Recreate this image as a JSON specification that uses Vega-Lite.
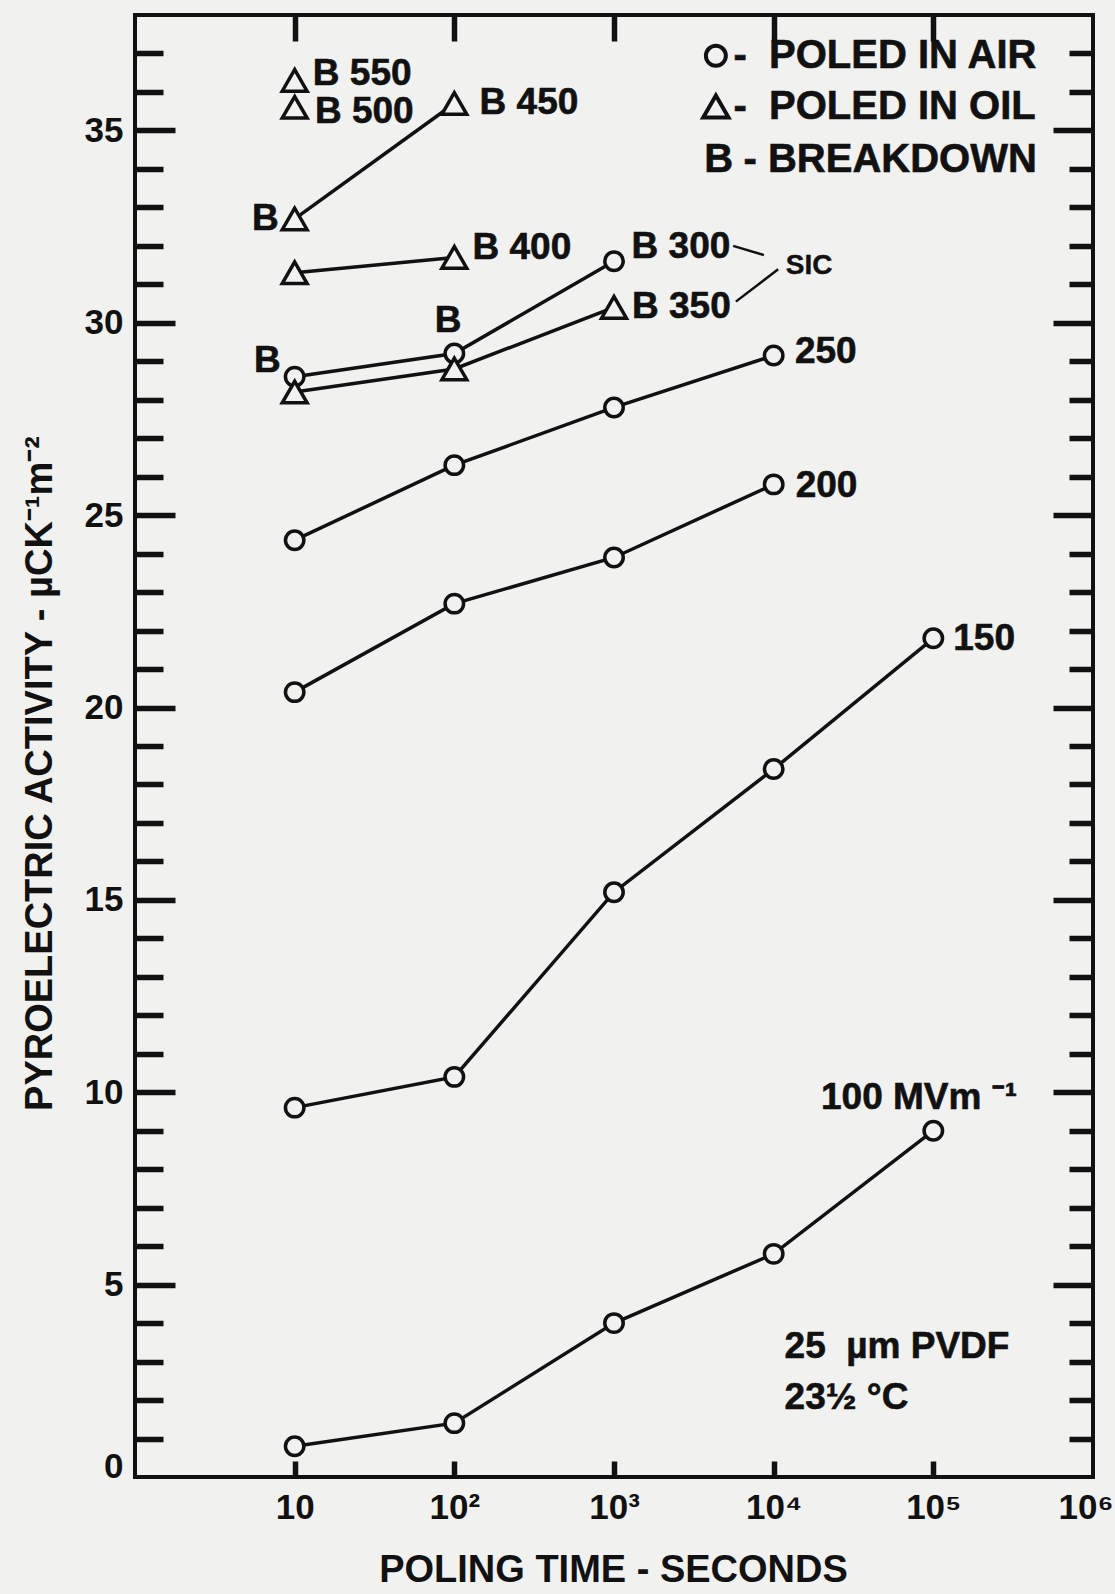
{
  "$schema": "https://vega.github.io/schema/vega-lite/v6.json",
  "width": 958,
  "height": 1462,
  "autosize": "none",
  "padding": {"left": 135, "top": 15, "right": 22, "bottom": 117},
  "background": "#f1f1ef",
  "config": {
    "view": {"stroke": "#111111", "strokeWidth": 4},
    "font": "Liberation Sans",
    "axis": {
      "grid": false,
      "domain": false,
      "labelFont": "Liberation Sans",
      "labelFontWeight": "bold",
      "labelFontSize": 35,
      "labelColor": "#111111",
      "tickColor": "#111111",
      "tickWidth": 5.5,
      "titleFont": "Liberation Sans",
      "titleFontWeight": "bold",
      "titleFontSize": 38,
      "titleColor": "#111111",
      "labelFlush": false,
      "labelOverlap": false
    }
  },
  "datasets": {
    "series": [
      {"s": "100", "medium": "air", "t": 10, "a": 0.8},
      {"s": "100", "medium": "air", "t": 100, "a": 1.4},
      {"s": "100", "medium": "air", "t": 1000, "a": 4.0},
      {"s": "100", "medium": "air", "t": 10000, "a": 5.8},
      {"s": "100", "medium": "air", "t": 100000, "a": 9.0},
      {"s": "150", "medium": "air", "t": 10, "a": 9.6},
      {"s": "150", "medium": "air", "t": 100, "a": 10.4},
      {"s": "150", "medium": "air", "t": 1000, "a": 15.2},
      {"s": "150", "medium": "air", "t": 10000, "a": 18.4},
      {"s": "150", "medium": "air", "t": 100000, "a": 21.8},
      {"s": "200", "medium": "air", "t": 10, "a": 20.4},
      {"s": "200", "medium": "air", "t": 100, "a": 22.7},
      {"s": "200", "medium": "air", "t": 1000, "a": 23.9},
      {"s": "200", "medium": "air", "t": 10000, "a": 25.8},
      {"s": "250", "medium": "air", "t": 10, "a": 24.35},
      {"s": "250", "medium": "air", "t": 100, "a": 26.3},
      {"s": "250", "medium": "air", "t": 1000, "a": 27.8},
      {"s": "250", "medium": "air", "t": 10000, "a": 29.15},
      {"s": "300", "medium": "air", "t": 10, "a": 28.6},
      {"s": "300", "medium": "air", "t": 100, "a": 29.2},
      {"s": "300", "medium": "air", "t": 1000, "a": 31.6},
      {"s": "350", "medium": "oil", "t": 10, "a": 28.2},
      {"s": "350", "medium": "oil", "t": 100, "a": 28.8},
      {"s": "350", "medium": "oil", "t": 1000, "a": 30.4},
      {"s": "400", "medium": "oil", "t": 10, "a": 31.3},
      {"s": "400", "medium": "oil", "t": 100, "a": 31.7},
      {"s": "450", "medium": "oil", "t": 10, "a": 32.7},
      {"s": "450", "medium": "oil", "t": 100, "a": 35.7},
      {"s": "500", "medium": "oil", "t": 10, "a": 35.6},
      {"s": "550", "medium": "oil", "t": 10, "a": 36.3}
    ],
    "notes": [
      {"t": 13.0, "a": 36.46, "label": "B 550"},
      {"t": 13.4, "a": 35.48, "label": "B 500"},
      {"t": 144, "a": 35.72, "label": "B 450"},
      {"t": 5.4, "a": 32.71, "label": "B"},
      {"t": 130, "a": 31.94, "label": "B 400"},
      {"t": 75.5, "a": 30.04, "label": "B"},
      {"t": 5.56, "a": 29.01, "label": "B"},
      {"t": 1289, "a": 31.98, "label": "B 300"},
      {"t": 1297, "a": 30.41, "label": "B 350"},
      {"t": 13580, "a": 29.23, "label": "250"},
      {"t": 13740, "a": 25.76, "label": "200"},
      {"t": 133300, "a": 21.77, "label": "150"},
      {"t": 19800, "a": 9.86, "label": "100 MVm ⁻¹"},
      {"t": 11700, "a": 3.38, "label": "25\u00a0 µm PVDF"},
      {"t": 11700, "a": 2.06, "label": "23½ °C"}
    ],
    "legendText": [
      {"t": 3675, "a": 34.24, "label": "B"},
      {"t": 5600, "a": 36.94, "label": "- \u00a0POLED IN AIR"},
      {"t": 5600, "a": 35.62, "label": "- \u00a0POLED IN OIL"},
      {"t": 6475, "a": 34.24, "label": "- BREAKDOWN"}
    ],
    "leaders": [
      {"t": 5574, "a": 32.0, "t2": 8690, "a2": 31.76},
      {"t": 5795, "a": 30.55, "t2": 10670, "a2": 31.39}
    ]
  },
  "resolve": {"axis": {"x": "independent", "y": "independent"}},
  "layer": [
    {
      "data": {"name": "series"},
      "mark": {"type": "line", "color": "#111111", "strokeWidth": 3.5},
      "encoding": {
        "x": {"field": "t", "type": "quantitative",
          "scale": {"type": "log", "domain": [1, 1000000], "nice": false},
          "axis": {"orient": "bottom", "values": [10, 100, 1000, 10000, 100000], "offset": -16, "tickSize": 16, "labels": false, "title": null}},
        "y": {"field": "a", "type": "quantitative",
          "scale": {"domain": [0, 38], "nice": false, "zero": false},
          "axis": {"orient": "left", "values": [1,2,3,4,6,7,8,9,11,12,13,14,16,17,18,19,21,22,23,24,26,27,28,29,31,32,33,34,36,37], "offset": -28, "tickSize": 28, "labels": false, "title": null}},
        "detail": {"field": "s", "type": "nominal"}
      }
    },
    {
      "data": {"name": "series"},
      "transform": [{"filter": "datum.medium === 'air'"}],
      "mark": {"type": "point", "shape": "circle", "filled": true, "fill": "#f1f1ef", "stroke": "#111111", "strokeWidth": 3.5, "size": 340, "opacity": 1},
      "encoding": {
        "x": {"field": "t", "type": "quantitative",
          "scale": {"type": "log", "domain": [1, 1000000], "nice": false},
          "axis": {"orient": "bottom", "values": [10, 100, 1000, 10000, 100000], "ticks": false, "labelPadding": 13,
            "labelExpr": "datum.value == 10 ? '10' : datum.value == 100 ? '10²' : datum.value == 1000 ? '10³' : datum.value == 10000 ? '10⁴' : '10⁵'",
            "title": "POLING TIME - SECONDS", "titleX": 478, "titleY": 93, "titleAlign": "center", "titleBaseline": "middle", "titleFontSize": 38}},
        "y": {"field": "a", "type": "quantitative",
          "scale": {"domain": [0, 38], "nice": false, "zero": false},
          "axis": {"orient": "left", "values": [5, 10, 15, 20, 25, 30, 35], "offset": -40, "tickSize": 40, "labels": false, "title": null}}
      }
    },
    {
      "data": {"name": "series"},
      "transform": [{"filter": "datum.medium === 'oil'"}],
      "mark": {"type": "point", "shape": "triangle-up", "filled": true, "fill": "#f1f1ef", "stroke": "#111111", "strokeWidth": 3.5, "size": 620, "opacity": 1},
      "encoding": {
        "x": {"field": "t", "type": "quantitative",
          "scale": {"type": "log", "domain": [1, 1000000], "nice": false},
          "axis": {"orient": "top", "values": [10, 100, 1000, 10000, 100000], "offset": -26, "tickSize": 26, "labels": false, "title": null}},
        "y": {"field": "a", "type": "quantitative",
          "scale": {"domain": [0, 38], "nice": false, "zero": false},
          "axis": {"orient": "left", "values": [5, 10, 15, 20, 25, 30, 35], "ticks": false, "labelPadding": 12,
            "title": "PYROELECTRIC ACTIVITY - µCK⁻¹m⁻²", "titleX": -95, "titleY": 758, "titleAngle": -90, "titleAlign": "center", "titleBaseline": "middle"}}
      }
    },
    {
      "data": {"name": "notes"},
      "mark": {"type": "text", "align": "left", "baseline": "middle", "font": "Liberation Sans", "fontWeight": "bold", "fontSize": 37, "color": "#111111", "stroke": "#111111", "strokeWidth": 0.6},
      "encoding": {
        "x": {"field": "t", "type": "quantitative",
          "scale": {"type": "log", "domain": [1, 1000000], "nice": false}, "axis": null},
        "y": {"field": "a", "type": "quantitative",
          "scale": {"domain": [0, 38], "nice": false, "zero": false},
          "axis": {"orient": "right", "values": [1,2,3,4,6,7,8,9,11,12,13,14,16,17,18,19,21,22,23,24,26,27,28,29,31,32,33,34,36,37], "offset": -24, "tickSize": 24, "labels": false, "title": null}},
        "text": {"field": "label", "type": "nominal"}
      }
    },
    {
      "data": {"name": "leaders"},
      "mark": {"type": "rule", "color": "#111111", "strokeWidth": 2.5},
      "encoding": {
        "x": {"field": "t", "type": "quantitative",
          "scale": {"type": "log", "domain": [1, 1000000], "nice": false},
          "axis": {"orient": "bottom", "values": [1000000], "ticks": false, "labelPadding": 13, "labelAlign": "right", "labelOffset": 20, "labelExpr": "'10⁶'", "title": null}},
        "x2": {"field": "t2"},
        "y": {"field": "a", "type": "quantitative",
          "scale": {"domain": [0, 38], "nice": false, "zero": false},
          "axis": {"orient": "right", "values": [5, 10, 15, 20, 25, 30, 35], "offset": -40, "tickSize": 40, "labels": false, "title": null}},
        "y2": {"field": "a2"}
      }
    },
    {
      "data": {"values": [{"t": 11920, "a": 31.48, "label": "SIC"}]},
      "mark": {"type": "text", "align": "left", "baseline": "middle", "font": "Liberation Sans", "fontWeight": "bold", "fontSize": 28, "color": "#111111", "stroke": "#111111", "strokeWidth": 0.4},
      "encoding": {
        "x": {"field": "t", "type": "quantitative", "scale": {"type": "log", "domain": [1, 1000000], "nice": false}, "axis": null},
        "y": {"field": "a", "type": "quantitative", "scale": {"domain": [0, 38], "nice": false, "zero": false},
          "axis": {"orient": "left", "values": [0], "ticks": false, "labelPadding": 12, "labelBaseline": "alphabetic", "title": null}},
        "text": {"field": "label", "type": "nominal"}
      }
    },
    {
      "data": {"name": "legendText"},
      "mark": {"type": "text", "align": "left", "baseline": "middle", "font": "Liberation Sans", "fontWeight": "bold", "fontSize": 40, "color": "#111111", "stroke": "#111111", "strokeWidth": 0.6},
      "encoding": {
        "x": {"field": "t", "type": "quantitative", "scale": {"type": "log", "domain": [1, 1000000], "nice": false}, "axis": null},
        "y": {"field": "a", "type": "quantitative", "scale": {"domain": [0, 38], "nice": false, "zero": false}, "axis": null},
        "text": {"field": "label", "type": "nominal"}
      }
    },
    {
      "data": {"values": [{"t": 4345, "a": 36.94}]},
      "mark": {"type": "point", "shape": "circle", "filled": true, "fill": "#f1f1ef", "stroke": "#111111", "strokeWidth": 4, "size": 400, "opacity": 1},
      "encoding": {
        "x": {"field": "t", "type": "quantitative", "scale": {"type": "log", "domain": [1, 1000000], "nice": false}, "axis": null},
        "y": {"field": "a", "type": "quantitative", "scale": {"domain": [0, 38], "nice": false, "zero": false}, "axis": null}
      }
    },
    {
      "data": {"values": [{"t": 4345, "a": 35.62}]},
      "mark": {"type": "point", "shape": "triangle-up", "filled": true, "fill": "#f1f1ef", "stroke": "#111111", "strokeWidth": 4, "size": 640, "opacity": 1},
      "encoding": {
        "x": {"field": "t", "type": "quantitative", "scale": {"type": "log", "domain": [1, 1000000], "nice": false}, "axis": null},
        "y": {"field": "a", "type": "quantitative", "scale": {"domain": [0, 38], "nice": false, "zero": false}, "axis": null}
      }
    }
  ]
}
